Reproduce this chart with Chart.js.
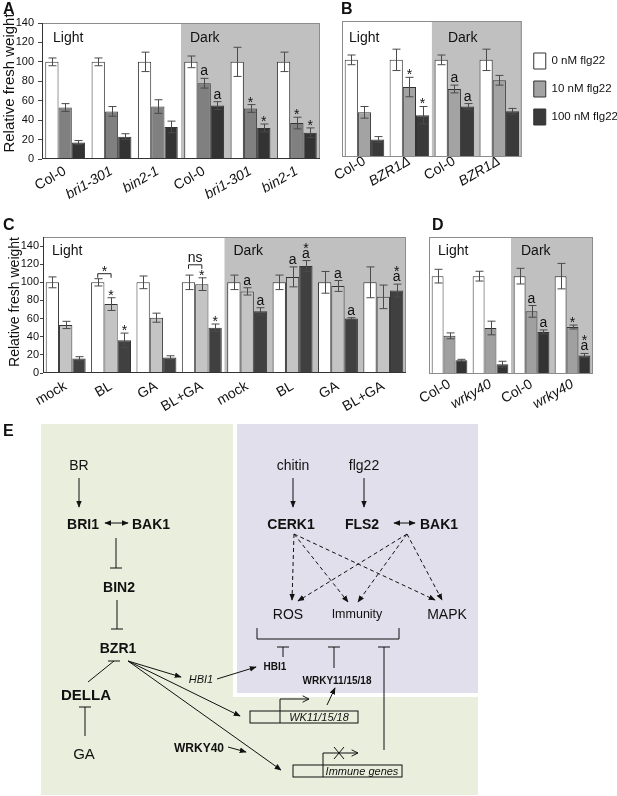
<!DOCTYPE html>
<html lang="en">
<head>
<meta charset="UTF-8">
<title>Fresh weight and BR / immunity crosstalk</title>
<script src="https://cdn.jsdelivr.net/npm/chart.js@4"></script>
<style>
  html, body { margin: 0; padding: 0; background: #fff; overflow: hidden; }
  body { position: relative; width: 617px; height: 796px; font-family: 'Liberation Sans', Arial, sans-serif; }
  .box { position: absolute; }
  svg.fig { position: absolute; left: 0; top: 0; pointer-events: none; }
  svg.fig text { font-family: 'Liberation Sans', Arial, sans-serif; fill: #111; }
</style>
</head>
<body>
<div class="box" style="left:0;top:0;width:330px;height:215px"><canvas id="chartA"></canvas></div>
<div class="box" style="left:320px;top:0;width:308px;height:215px"><canvas id="chartB"></canvas></div>
<div class="box" style="left:0;top:205px;width:420px;height:215px"><canvas id="chartC"></canvas></div>
<div class="box" style="left:415px;top:205px;width:202px;height:215px"><canvas id="chartD"></canvas></div>

<svg class="fig" width="617" height="796" viewBox="0 0 617 796">
  <defs>
    <marker id="ah" viewBox="0 0 10 10" refX="9" refY="5" markerWidth="7" markerHeight="7" orient="auto-start-reverse">
      <path d="M0,1 L10,5 L0,9 z" fill="#111"/>
    </marker>
    <marker id="open" viewBox="0 0 10 10" refX="9" refY="5" markerWidth="8" markerHeight="8" orient="auto">
      <path d="M1,1 L9,5 L1,9" fill="none" stroke="#111" stroke-width="1.2"/>
    </marker>
  </defs>
  <g font-weight="bold" font-size="16">
    <text x="3" y="14">A</text>
    <text x="341" y="14">B</text>
    <text x="3" y="230">C</text>
    <text x="432" y="230">D</text>
    <text x="3" y="436">E</text>
  </g>

  <!-- panel E backgrounds -->
  <rect x="41" y="424" width="437" height="371" fill="#eaeedd"/>
  <rect x="233" y="424" width="245" height="273" fill="#ffffff"/>
  <rect x="237" y="424" width="241" height="269" fill="#e1dfeb"/>

  <g stroke="#111" stroke-width="1" fill="none">
    <!-- BR side -->
    <line x1="79" y1="478" x2="79" y2="507" marker-end="url(#ah)"/>
    <line x1="105" y1="523" x2="128" y2="523" marker-start="url(#ah)" marker-end="url(#ah)"/>
    <line x1="116" y1="538" x2="116" y2="568"/>
    <line x1="110" y1="568" x2="122" y2="568"/>
    <line x1="117" y1="600" x2="117" y2="629"/>
    <line x1="111" y1="629" x2="123" y2="629"/>
    <line x1="88" y1="682" x2="114" y2="661"/>
    <line x1="108" y1="661" x2="120" y2="661"/>
    <line x1="85" y1="707" x2="85" y2="736"/>
    <line x1="79" y1="707" x2="91" y2="707"/>
    <line x1="128" y1="661" x2="181" y2="677" marker-end="url(#ah)"/>
    <line x1="128" y1="661" x2="240" y2="716" marker-end="url(#ah)"/>
    <line x1="128" y1="661" x2="281" y2="770" marker-end="url(#ah)"/>
    <line x1="217" y1="679" x2="256" y2="667" marker-end="url(#ah)"/>
    <line x1="327" y1="705" x2="335" y2="688" marker-end="url(#ah)"/>
    <line x1="228" y1="747" x2="246" y2="752" marker-end="url(#ah)"/>
    <!-- gene boxes -->
    <rect x="250" y="711" width="108" height="12"/>
    <line x1="280" y1="711" x2="280" y2="723"/>
    <polyline points="280,711 280,699 309,699" marker-end="url(#open)"/>
    <rect x="293" y="765" width="109" height="12"/>
    <line x1="323" y1="765" x2="323" y2="777"/>
    <polyline points="323,765 323,753 358,753" marker-end="url(#open)"/>
    <line x1="334" y1="747" x2="344" y2="759"/>
    <line x1="334" y1="759" x2="344" y2="747"/>
    <!-- immune side -->
    <line x1="293" y1="478" x2="293" y2="507" marker-end="url(#ah)"/>
    <line x1="364" y1="478" x2="364" y2="507" marker-end="url(#ah)"/>
    <line x1="394" y1="523" x2="415" y2="523" marker-start="url(#ah)" marker-end="url(#ah)"/>
    <g stroke-dasharray="4 3">
      <line x1="294" y1="534" x2="292" y2="600" marker-end="url(#ah)"/>
      <line x1="294" y1="534" x2="348" y2="602" marker-end="url(#ah)"/>
      <line x1="294" y1="534" x2="435" y2="600" marker-end="url(#ah)"/>
      <line x1="407" y1="534" x2="298" y2="601" marker-end="url(#ah)"/>
      <line x1="407" y1="534" x2="358" y2="602" marker-end="url(#ah)"/>
      <line x1="407" y1="534" x2="442" y2="600" marker-end="url(#ah)"/>
    </g>
    <polyline points="257,628 257,639 399,639 399,628"/>
    <line x1="283" y1="647" x2="283" y2="657"/>
    <line x1="277" y1="647" x2="289" y2="647"/>
    <line x1="334" y1="647" x2="334" y2="668"/>
    <line x1="328" y1="647" x2="340" y2="647"/>
    <line x1="384" y1="647" x2="384" y2="750"/>
    <line x1="378" y1="647" x2="390" y2="647"/>
  </g>

  <g text-anchor="middle" dominant-baseline="central">
    <text x="79" y="465" font-size="14">BR</text>
    <text x="83" y="524" font-size="14" font-weight="bold">BRI1</text>
    <text x="151" y="524" font-size="14" font-weight="bold">BAK1</text>
    <text x="119" y="587" font-size="14" font-weight="bold">BIN2</text>
    <text x="118" y="648" font-size="14" font-weight="bold">BZR1</text>
    <text x="86" y="694" font-size="15" font-weight="bold">DELLA</text>
    <text x="84" y="753" font-size="15">GA</text>
    <text x="201" y="679" font-size="11" font-style="italic">HBI1</text>
    <text x="275" y="666" font-size="10" font-weight="bold">HBI1</text>
    <text x="337" y="680" font-size="10" font-weight="bold">WRKY11/15/18</text>
    <text x="319" y="717" font-size="11" font-style="italic">WK11/15/18</text>
    <text x="199" y="748" font-size="12" font-weight="bold">WRKY40</text>
    <text x="362" y="771" font-size="11" font-style="italic">Immune genes</text>
    <text x="293" y="465" font-size="14">chitin</text>
    <text x="364" y="465" font-size="14">flg22</text>
    <text x="291" y="524" font-size="14" font-weight="bold">CERK1</text>
    <text x="362" y="524" font-size="14" font-weight="bold">FLS2</text>
    <text x="439" y="524" font-size="14" font-weight="bold">BAK1</text>
    <text x="288" y="614" font-size="14">ROS</text>
    <text x="357" y="614" font-size="12.5">Immunity</text>
    <text x="447" y="614" font-size="14">MAPK</text>
  </g>
</svg>

<script>
  const FONT = "'Liberation Sans', Arial, sans-serif";
  Chart.defaults.font.family = FONT;
  Chart.defaults.color = '#111';
  Chart.defaults.animation = false;

  const seriesNames = ['0 nM flg22', '10 nM flg22', '100 nM flg22'];

  // A: BR mutants, light vs dark
  const labelsA = ['Col-0', 'bri1-301', 'bin2-1', 'Col-0', 'bri1-301', 'bin2-1'];
  const italicA = [false, true, true, false, true, true];
  const a0 = [100, 100, 100, 100, 100, 100];
  const a10 = [53, 49, 54, 78, 52, 37];
  const a100 = [17, 23, 33, 55, 32, 27];
  const errA0 = [4, 4, 10, 6, 15, 10];
  const errA10 = [4, 5, 7, 5, 4, 6];
  const errA100 = [2, 3, 6, 4, 4, 5];
  const marksA10 = ['', '', '', 'a', '*', '*'];
  const marksA100 = ['', '', '', 'a', '*', '*'];

  // B: BZR1 gain of function
  const labelsB = ['Col-0', 'BZR1\u0394', 'Col-0', 'BZR1\u0394'];
  const italicB = [false, true, false, true];
  const b0 = [100, 100, 100, 100];
  const b10 = [46, 72, 70, 79];
  const b100 = [18, 43, 52, 47];
  const errB0 = [5, 11, 5, 11];
  const errB10 = [6, 10, 4, 5];
  const errB100 = [3, 9, 3, 3];
  const marksB10 = ['', '*', 'a', ''];
  const marksB100 = ['', '*', 'a', ''];

  // C: BL / GA treatments
  const labelsC = ['mock', 'BL', 'GA', 'BL+GA', 'mock', 'BL', 'GA', 'BL+GA'];
  const italicC = [false, false, false, false, false, false, false, false];
  const c0 = [100, 100, 100, 100, 100, 100, 100, 100];
  const c10 = [53, 76, 61, 98, 90, 106, 96, 84];
  const c100 = [16, 36, 17, 50, 68, 118, 60, 91];
  const errC0 = [6, 4, 7, 8, 8, 8, 12, 17];
  const errC10 = [4, 7, 5, 7, 4, 11, 6, 13];
  const errC100 = [2, 8, 2, 4, 4, 6, 1, 7];
  const marksC10 = ['', '*', '', '*', 'a', 'a', 'a', ''];
  const marksC100 = ['', '*', '', '*', 'a', '*\na', 'a', '*\na'];
  const bracketsC = ['', '*', '', 'ns', '', '', '', ''];

  // D: wrky40
  const labelsD = ['Col-0', 'wrky40', 'Col-0', 'wrky40'];
  const italicD = [false, true, false, true];
  const d0 = [100, 100, 100, 100];
  const d10 = [39, 47, 64, 48];
  const d100 = [14, 10, 43, 19];
  const errD0 = [7, 5, 8, 13];
  const errD10 = [3, 7, 6, 2];
  const errD100 = [1, 3, 2, 2];
  const marksD10 = ['', '', 'a', '*'];
  const marksD100 = ['', '', 'a', '*\na'];

  // stacks annotation lines upward from baseline y, returns the new top
  function drawMarks(ctx, text, x, y) {
    ctx.fillStyle = '#111';
    ctx.font = '14px ' + FONT;
    ctx.textAlign = 'center';
    ctx.textBaseline = 'alphabetic';
    text.split('\n').reverse().forEach(s => {
      if (s === '*') { ctx.fillText(s, x, y + 5); y -= 8; }
      else { ctx.fillText(s, x, y); y -= 10; }
    });
    return y;
  }

  const deco = {
    id: 'deco',
    beforeDatasetsDraw(chart, args, o) {
      const { ctx, chartArea: ca, scales: { x } } = chart;
      const xd = x.getPixelForValue(o.darkFrom - 0.5);
      ctx.save();
      ctx.fillStyle = '#c0c0c0';
      ctx.fillRect(xd, ca.top, ca.right - xd, ca.bottom - ca.top);
      ctx.fillStyle = '#111';
      ctx.font = '14px ' + FONT;
      ctx.textAlign = 'left';
      ctx.fillText('Light', ca.left + o.dxL, ca.top + o.dy);
      ctx.fillText('Dark', xd + o.dxD, ca.top + o.dy);
      if (o.title) {
        ctx.translate(o.title.x, o.title.y);
        ctx.rotate(-Math.PI / 2);
        ctx.textAlign = 'center';
        ctx.textBaseline = 'middle';
        ctx.font = o.title.size + 'px ' + FONT;
        ctx.fillText('Relative fresh weight', 0, 0);
      }
      ctx.restore();
    },
    afterDatasetsDraw(chart, args, o) {
      const { ctx, chartArea: ca, scales: { y } } = chart;
      const tops = [];
      ctx.save();
      ctx.lineWidth = 1;
      chart.data.datasets.forEach((ds, di) => {
        tops[di] = [];
        chart.getDatasetMeta(di).data.forEach((bar, i) => {
          const v = ds.data[i], e = ds.errors[i];
          const y1 = y.getPixelForValue(v + e), y2 = y.getPixelForValue(v - e);
          const bx = Math.round(bar.x) + 0.5;
          ctx.strokeStyle = '#4a4a4a';
          ctx.beginPath();
          ctx.moveTo(bx, y1); ctx.lineTo(bx, y2);
          ctx.moveTo(bx - 4, y1); ctx.lineTo(bx + 4, y1);
          ctx.moveTo(bx - 4, y2); ctx.lineTo(bx + 4, y2);
          ctx.stroke();
          let top = y1 - 3;
          if (ds.marks && ds.marks[i]) top = drawMarks(ctx, ds.marks[i], bar.x, top);
          tops[di][i] = top;
        });
      });
      (o.brackets || []).forEach((t, i) => {
        if (!t) return;
        const a = chart.getDatasetMeta(0).data[i], b = chart.getDatasetMeta(1).data[i];
        const yb = Math.min(tops[0][i], tops[1][i]) + 2, yt = yb - 4;
        ctx.strokeStyle = '#222';
        ctx.beginPath();
        ctx.moveTo(a.x, yb); ctx.lineTo(a.x, yt); ctx.lineTo(b.x, yt); ctx.lineTo(b.x, yb);
        ctx.stroke();
        drawMarks(ctx, t, (a.x + b.x) / 2, yt - 3);
      });
      ctx.strokeStyle = '#8c8c8c';
      ctx.strokeRect(ca.left + 0.5, ca.top + 0.5, ca.width - 1, ca.height - 1);
      if (o.axisDark) {
        ctx.strokeStyle = '#333';
        ctx.beginPath();
        ctx.moveTo(ca.left + 0.5, ca.top); ctx.lineTo(ca.left + 0.5, ca.bottom);
        ctx.moveTo(ca.left, ca.bottom - 0.5); ctx.lineTo(ca.right, ca.bottom - 0.5);
        ctx.stroke();
      }
      ctx.restore();
    }
  };

  function panel(id, p) {
    return new Chart(document.getElementById(id), {
      type: 'bar',
      data: {
        labels: p.labels,
        datasets: p.values.map((v, k) => ({
          label: seriesNames[k],
          data: v,
          errors: p.errors[k],
          marks: p.marks[k],
          backgroundColor: p.colors[k],
          borderColor: '#333',
          borderWidth: 1,
          categoryPercentage: p.cat,
          barPercentage: 1
        }))
      },
      options: {
        responsive: true,
        maintainAspectRatio: false,
        layout: { padding: p.pad },
        plugins: {
          legend: p.legend ? {
            position: 'right',
            fullSize: false,
            align: 'center',
            labels: { boxWidth: 12, boxHeight: 16, padding: 12, font: { size: 11.5 }, color: '#111' }
          } : { display: false },
          tooltip: { enabled: false },
          deco: p.deco
        },
        scales: {
          x: {
            grid: { display: false },
            border: { display: false },
            ticks: {
              autoSkip: false, minRotation: 30, maxRotation: 30, padding: p.labelPad,
              color: '#111',
              font: c => ({ size: 14, style: p.italic[c.index] ? 'italic' : 'normal' })
            },
            afterFit: s => { s.height = p.xh; }
          },
          y: {
            display: p.yAxis,
            min: 0, max: p.yMax,
            ticks: { stepSize: 20, includeBounds: false, font: { size: 11 }, padding: p.tickPad, color: '#111' },
            grid: { drawOnChartArea: false, tickLength: p.tickLen, color: '#444' },
            border: { display: false },
            afterFit: s => { s.width = p.yw; }
          }
        }
      },
      plugins: [deco]
    });
  }

  panel('chartA', {
    labels: labelsA, italic: italicA,
    values: [a0, a10, a100], errors: [errA0, errA10, errA100], marks: [null, marksA10, marksA100],
    colors: ['#ffffff', '#808080', '#333333'], cat: 0.86, yMax: 140,
    pad: { top: 23, right: 10, left: 0, bottom: 0 }, xh: 56, yw: 42, yAxis: true, labelPad: -4,
    tickPad: 4, tickLen: 4,
    deco: { darkFrom: 3, dxL: 11, dxD: 9, dy: 19, axisDark: true, title: { x: 10, y: 83, size: 15 } }
  });

  panel('chartB', {
    labels: labelsB, italic: italicB, legend: true,
    values: [b0, b10, b100], errors: [errB0, errB10, errB100], marks: [null, marksB10, marksB100],
    colors: ['#ffffff', '#a3a3a3', '#3a3a3a'], cat: 0.88, yMax: 140,
    pad: { top: 21, right: 0, left: 22, bottom: 0 }, xh: 58, yw: 0, yAxis: false, labelPad: -12,
    tickPad: 4, tickLen: 4,
    deco: { darkFrom: 2, dxL: 7, dxD: 16, dy: 21 }
  });

  panel('chartC', {
    labels: labelsC, italic: italicC,
    values: [c0, c10, c100], errors: [errC0, errC10, errC100], marks: [null, marksC10, marksC100],
    colors: ['#ffffff', '#c4c4c4', '#404040'], cat: 0.88, yMax: 150,
    pad: { top: 32, right: 14, left: 0, bottom: 0 }, xh: 47, yw: 43, yAxis: true, labelPad: -3,
    tickPad: 1, tickLen: 3,
    deco: { darkFrom: 4, dxL: 9, dxD: 9, dy: 18, axisDark: true, brackets: bracketsC, title: { x: 15, y: 97, size: 14 } }
  });

  panel('chartD', {
    labels: labelsD, italic: italicD,
    values: [d0, d10, d100], errors: [errD0, errD10, errD100], marks: [null, marksD10, marksD100],
    colors: ['#ffffff', '#a0a0a0', '#333333'], cat: 0.87, yMax: 140,
    pad: { top: 32, right: 24, left: 14, bottom: 0 }, xh: 46, yw: 0, yAxis: false, labelPad: -6,
    tickPad: 4, tickLen: 4,
    deco: { darkFrom: 2, dxL: 9, dxD: 10, dy: 18 }
  });
</script>
</body>
</html>
